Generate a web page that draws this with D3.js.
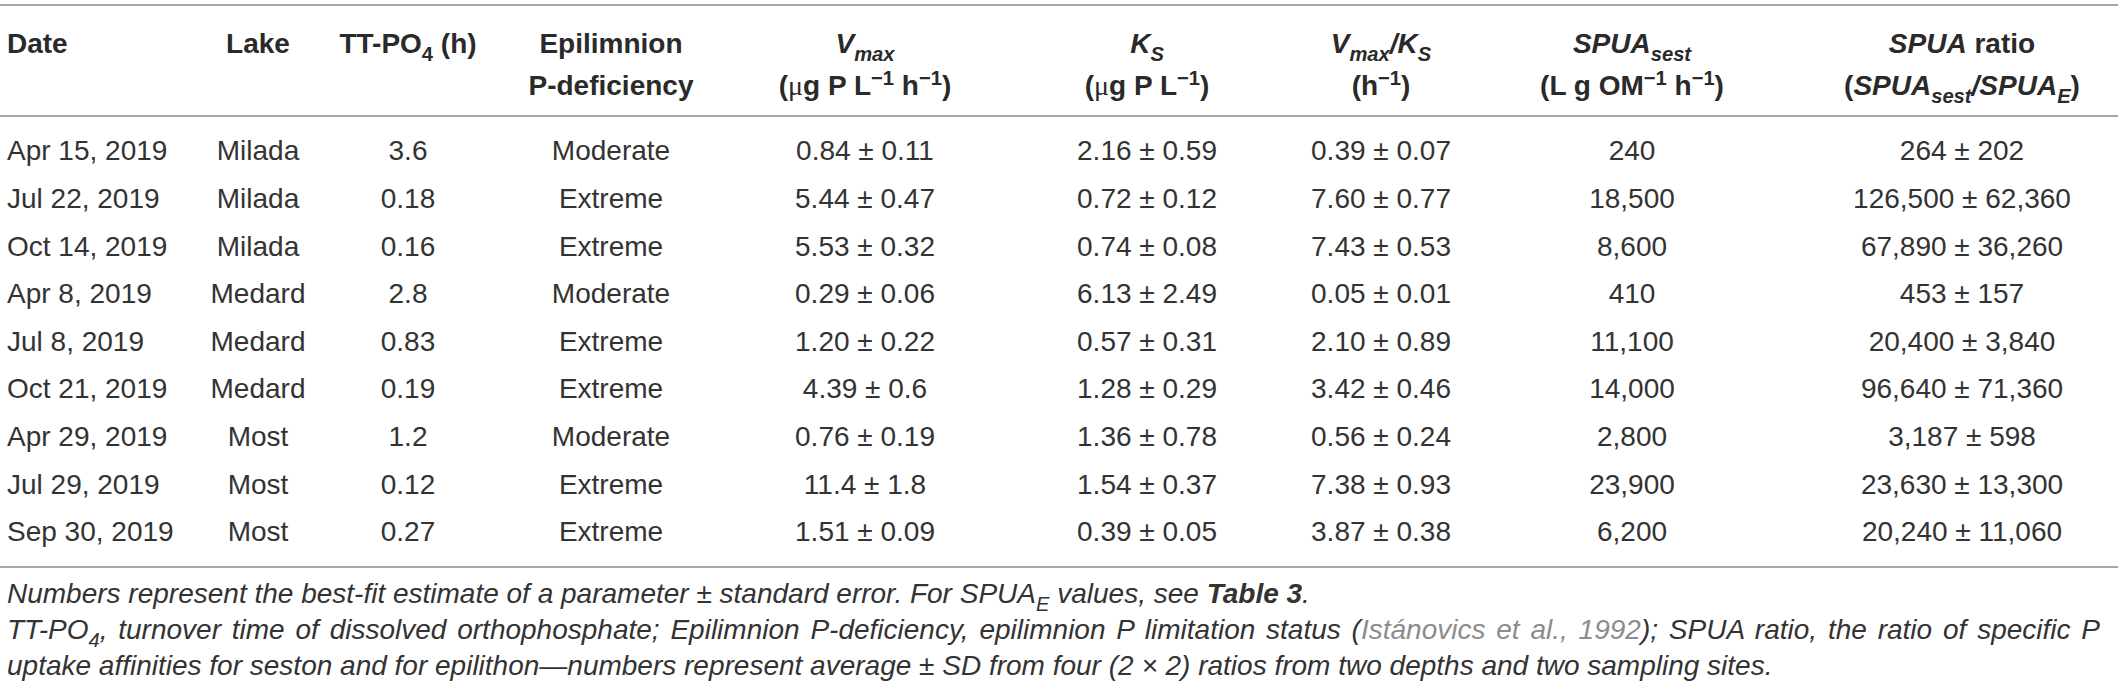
<!DOCTYPE html>
<html>
<head>
<meta charset="utf-8">
<script src="https://cdn.jsdelivr.net/npm/d3@7"></script>
<style>
  html, body { margin: 0; padding: 0; background: #ffffff; }
  svg { display: block; }
</style>
</head>
<body>
<svg id="chart" width="2118" height="689"></svg>
<script>
// ---------------- DATA ----------------
const dates = ["Apr 15, 2019","Jul 22, 2019","Oct 14, 2019","Apr 8, 2019","Jul 8, 2019","Oct 21, 2019","Apr 29, 2019","Jul 29, 2019","Sep 30, 2019"];
const lakes = ["Milada","Milada","Milada","Medard","Medard","Medard","Most","Most","Most"];
const ttPO4 = ["3.6","0.18","0.16","2.8","0.83","0.19","1.2","0.12","0.27"];
const deficiency = ["Moderate","Extreme","Extreme","Moderate","Extreme","Extreme","Moderate","Extreme","Extreme"];
const vmaxVal = ["0.84","5.44","5.53","0.29","1.20","4.39","0.76","11.4","1.51"];
const vmaxErr = ["0.11","0.47","0.32","0.06","0.22","0.6","0.19","1.8","0.09"];
const ksVal = ["2.16","0.72","0.74","6.13","0.57","1.28","1.36","1.54","0.39"];
const ksErr = ["0.59","0.12","0.08","2.49","0.31","0.29","0.78","0.37","0.05"];
const vkVal = ["0.39","7.60","7.43","0.05","2.10","3.42","0.56","7.38","3.87"];
const vkErr = ["0.07","0.77","0.53","0.01","0.89","0.46","0.24","0.93","0.38"];
const spuaSest = ["240","18,500","8,600","410","11,100","14,000","2,800","23,900","6,200"];
const ratioVal = ["264","126,500","67,890","453","20,400","96,640","3,187","23,630","20,240"];
const ratioErr = ["202","62,360","36,260","157","3,840","71,360","598","13,300","11,060"];

const columnKeys = ["date","lake","tt","def","vmax","ks","vk","sest","ratio"];

// header segments: arrays of lines; each line is an array of [text, style]
const headerLines = {
  date:  [[["Date","b"]]],
  lake:  [[["Lake","b"]]],
  tt:    [[["TT-PO","b"],["4","b sub"],[" (h)","b"]]],
  def:   [[["Epilimnion","b"]],[["P-deficiency","b"]]],
  vmax:  [[["V","b i"],["max","b i sub"]],[["(","b"],["μ","b mu"],["g P  L","b"],["−1","b sup"],[" h","b"],["−1","b sup"],[")","b"]]],
  ks:    [[["K","b i"],["S","b i sub"]],[["(","b"],["μ","b mu"],["g P L","b"],["−1","b sup"],[")","b"]]],
  vk:    [[["V","b i"],["max","b i sub"],["/K","b i"],["S","b i sub"]],[["(h","b"],["−1","b sup"],[")","b"]]],
  sest:  [[["SPUA","b i"],["sest","b i sub"]],[["(L g OM","b"],["−1","b sup"],[" h","b"],["−1","b sup"],[")","b"]]],
  ratio: [[["SPUA","b i"],[" ratio","b"]],[["(","b"],["SPUA","b i"],["sest","b i sub"],["/SPUA","b i"],["E","b i sub"],[")","b"]]]
};

const footLines = [
  [["Numbers represent the best-fit estimate of a parameter ± standard error. For SPUA","i"],["E","i sub"],[" values, see ","i"],["Table 3","i b"],[".","i"]],
  [["TT-PO","i"],["4","i sub"],[", turnover time of dissolved orthophosphate; Epilimnion P-deficiency, epilimnion P limitation status (","i"],["Istánovics et al., 1992","i link"],["); SPUA ratio, the ratio of specific P","i"]],
  [["uptake affinities for seston and for epilithon—numbers represent average ± SD from four (2 × 2) ratios from two depths and two sampling sites.","i"]]
];
const footJustify = [false, true, false];

// ---------------- LAYOUT ----------------
const W = 2118, H = 689;
const svg = d3.select("#chart");
const FONT = "'Liberation Sans', Arial, Helvetica, sans-serif";
const TEXT = "#2a2a2a";
const BODY = "#333333";
const RULE = "#a8a8a8";
const FS = 28;

const colX = d3.scaleOrdinal()
  .domain(columnKeys)
  .range([7, 258, 408, 611, 865, 1147, 1381, 1632, 1962]);
const colAnchor = k => k === "date" ? "start" : "middle";

const rowY = d3.scaleBand()
  .domain(d3.range(dates.length))
  .range([126.5, 126.5 + 47.6 * dates.length])
  .padding(0);

const headerY = d3.scalePoint().domain([0,1]).range([53, 95]);
const footY = d3.scalePoint().domain([0,1,2]).range([603, 675]);

// rules
const rules = [5, 116, 567];
svg.selectAll("line.rule").data(rules).join("line")
  .attr("class","rule")
  .attr("x1",0).attr("x2",W)
  .attr("y1",d=>d).attr("y2",d=>d)
  .attr("stroke",RULE).attr("stroke-width",2);

function writeSegments(textSel, segs, fontSize) {
  let shift = 0;
  segs.forEach(([t, style]) => {
    const f = style.split(" ");
    const ts = textSel.append("tspan").text(t);
    if (f.includes("b")) ts.attr("font-weight", 700);
    if (f.includes("i")) ts.attr("font-style", "italic");
    if (f.includes("mu")) ts.attr("font-family", "'Liberation Serif', 'DejaVu Serif', serif").attr("font-weight", 400);
    if (f.includes("link")) ts.attr("fill", "#8c8c8c");
    let target = 0;
    if (f.includes("sub")) target = 0.28 * fontSize;
    if (f.includes("sup")) target = -0.36 * fontSize;
    if (f.includes("sub") || f.includes("sup")) ts.attr("font-size", fontSize * 0.72);
    const dy = target - shift;
    if (dy !== 0) ts.attr("dy", dy);
    shift = target;
  });
}

// header
columnKeys.forEach(k => {
  headerLines[k].forEach((line, li) => {
    const t = svg.append("text")
      .attr("x", colX(k))
      .attr("y", headerY(li))
      .attr("text-anchor", colAnchor(k))
      .attr("font-family", FONT)
      .attr("font-size", FS)
      .attr("fill", TEXT);
    writeSegments(t, line, FS);
  });
});

// body
const pm = (a, b) => a.map((v, i) => v + " ± " + b[i]);
const columns = {
  date: dates, lake: lakes, tt: ttPO4, def: deficiency,
  vmax: pm(vmaxVal, vmaxErr), ks: pm(ksVal, ksErr), vk: pm(vkVal, vkErr),
  sest: spuaSest, ratio: pm(ratioVal, ratioErr)
};

columnKeys.forEach(k => {
  svg.append("g").selectAll("text").data(columns[k]).join("text")
    .attr("x", colX(k))
    .attr("y", (d, i) => rowY(i) + rowY.bandwidth() / 2 + 10)
    .attr("text-anchor", colAnchor(k))
    .attr("font-family", FONT)
    .attr("font-size", FS)
    .attr("fill", BODY)
    .text(d => d);
});

// footnotes
const footLeft = 7, footRight = 2100;
footLines.forEach((line, li) => {
  const t = svg.append("text")
    .attr("x", footLeft)
    .attr("y", footY(li))
    .attr("font-family", FONT)
    .attr("font-size", FS)
    .attr("fill", BODY);
  writeSegments(t, line, FS);
  if (footJustify[li]) {
    const natural = t.node().getComputedTextLength();
    const spaces = line.map(s => s[0]).join("").split(" ").length - 1;
    const extra = (footRight - footLeft - natural) / spaces;
    if (extra > 0) t.attr("word-spacing", extra);
  }
});
</script>
</body>
</html>
